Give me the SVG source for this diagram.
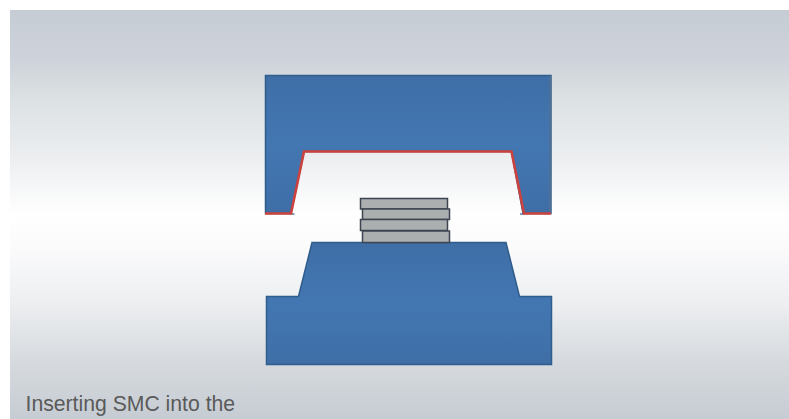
<svg xmlns="http://www.w3.org/2000/svg" width="789" height="419" viewBox="0 0 789 419">
<style>
.mold{stroke:#2f5d8c;stroke-width:1.5;stroke-linejoin:miter}
.red{fill:none;stroke:#cc423e;stroke-width:2.6;stroke-linejoin:miter}
.tick{fill:none;stroke:#5f7d9e;stroke-width:1.5}
.edge{fill:none;stroke:#4f6f95;stroke-width:2}
.smc{fill:#acafb0;stroke:#3d4650;stroke-width:1.5}
.cap{font-family:"Liberation Sans",Arial,sans-serif;font-size:21.2px;fill:#5a5a5a}
</style>
<defs>
<linearGradient id="bg" x1="0" y1="0" x2="0" y2="1">
<stop offset="0" stop-color="#c6ccd4"/>
<stop offset="0.12" stop-color="#ced3db"/>
<stop offset="0.22" stop-color="#dce1e3"/>
<stop offset="0.36" stop-color="#eceef0"/>
<stop offset="0.5" stop-color="#ffffff"/>
<stop offset="0.58" stop-color="#fbfbfc"/>
<stop offset="0.72" stop-color="#eceef0"/>
<stop offset="0.86" stop-color="#d6dade"/>
<stop offset="1" stop-color="#c6ccd3"/>
</linearGradient>
<linearGradient id="blue" x1="0" y1="0" x2="0" y2="1">
<stop offset="0" stop-color="#3f6ea6"/>
<stop offset="0.5" stop-color="#4377b2"/>
<stop offset="1" stop-color="#3f6ea6"/>
</linearGradient>
</defs>
<rect id="background" x="10" y="10" width="779" height="409" fill="url(#bg)"/>
<g id="upper-mold">
<path class="mold" fill="url(#blue)" d="M265.500 75.500H551V213.500H523L511.500 151.500H304L291 213.500H265.500Z"/>
<path class="edge" d="M550 76V212"/>
<path class="tick" d="M291 214H294.500M520 214H524"/>
<path class="red" d="M265 213.500H291L304 151.500H511.500L524 213.500H551"/>
</g>
<g id="lower-mold">
<path class="mold" fill="url(#blue)" d="M312 242.500H506L519.500 296.500H551.500V364.500H266.500V296.500H298.500Z"/>
</g>
<g id="smc-stack">
<rect class="smc" x="360.500" y="198.500" width="87" height="10.500"/>
<rect class="smc" x="362.500" y="209" width="87" height="10.500"/>
<rect class="smc" x="360.500" y="219.500" width="87" height="11"/>
<rect class="smc" x="362.500" y="231" width="87" height="11.500"/>
</g>
<text id="caption" class="cap" x="25.500" y="411">Inserting SMC into the</text>
</svg>
